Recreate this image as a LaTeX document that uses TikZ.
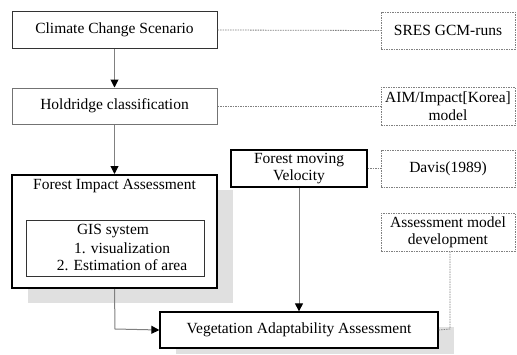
\documentclass[tikz,border=0pt]{standalone}
\usepackage{fontspec}
\setmainfont{Liberation Serif}
\usetikzlibrary{arrows.meta}
\begin{document}
\begin{tikzpicture}[x=1pt,y=-1pt,
  every node/.style={font=\fontsize{15.5}{17}\selectfont, inner sep=0pt, align=center},
  mainbox/.style={draw=black!80, line width=1pt},
  lightbox/.style={draw=black!55, line width=1pt},
  thickbox/.style={draw=black, line width=2pt},
  srcbox/.style={draw=black!50, dashed, dash pattern=on 1.5pt off 1pt, line width=0.8pt},
  link/.style={draw=black!50, line width=1pt, -{Triangle[length=8pt,width=8pt,fill=black,color=black]}},
  dotlink/.style={draw=black!50, dash pattern=on 1.5pt off 1pt, line width=0.8pt},
  shadow/.style={fill=black!12, draw=none}]
\useasboundingbox (0,0) rectangle (517,354);
% shadows
\fill[shadow] (28,190) rectangle (233,303);
\fill[shadow] (176,327) rectangle (454,354);
% boxes
\node[mainbox, minimum width=205pt, minimum height=37pt] (ccs) at (114.5,30) {Climate Change Scenario};
\node[lightbox, minimum width=205pt, minimum height=36pt] (hold) at (114.5,106) {Holdridge classification};
\node[thickbox, fill=white, minimum width=205pt, minimum height=113pt] (fia) at (114.5,231.5) {};
\node (fiat) at (114.5,186) {Forest Impact Assessment};
\node[draw=black!80, line width=0.8pt, minimum width=178pt, minimum height=56pt] (gis) at (115,248) {};
\node (g1) at (113,231) {GIS system};
\node (g2) at (122,248) {1. visualization};
\node (g3) at (122,265) {2. Estimation of area};
\node[mainbox, draw=black, line width=1.3pt, minimum width=136pt, minimum height=37pt] (fmv) at (299,168.5) {Forest moving\\Velocity};
\node[mainbox, draw=black, line width=1.3pt, fill=white, minimum width=278pt, minimum height=36pt] (veg) at (299,330) {Vegetation Adaptability Assessment};
% source boxes
\node[srcbox, minimum width=134pt, minimum height=37pt] (sres) at (448,30.5) {SRES GCM-runs};
\node[srcbox, minimum width=134pt, minimum height=38pt] (aim) at (448,106) {AIM/Impact[Korea]\\[1pt]model};
\node[srcbox, minimum width=134pt, minimum height=37pt] (dav) at (448,168.5) {Davis(1989)};
\node[srcbox, minimum width=134pt, minimum height=38pt] (amd) at (448,232) {Assessment model\\development};
% connectors
\draw[link] (ccs.south) -- (hold.north);
\draw[link] (hold.south) -- (fia.north);
\coordinate (c1) at (115,329);
\draw[link] (fia.south) -- (c1) -- (veg.west);
\draw[link] (fmv.south) -- (veg.north);
\draw[dotlink] (ccs.east) -- (sres.west);
\draw[dotlink] (hold.east) -- (aim.west);
\draw[dotlink] (fmv.east) -- (dav.west);
\coordinate (c2) at (450,329);
\draw[dotlink] (amd.south -| c2) -- (c2) -- (veg.east);
\end{tikzpicture}
\end{document}
